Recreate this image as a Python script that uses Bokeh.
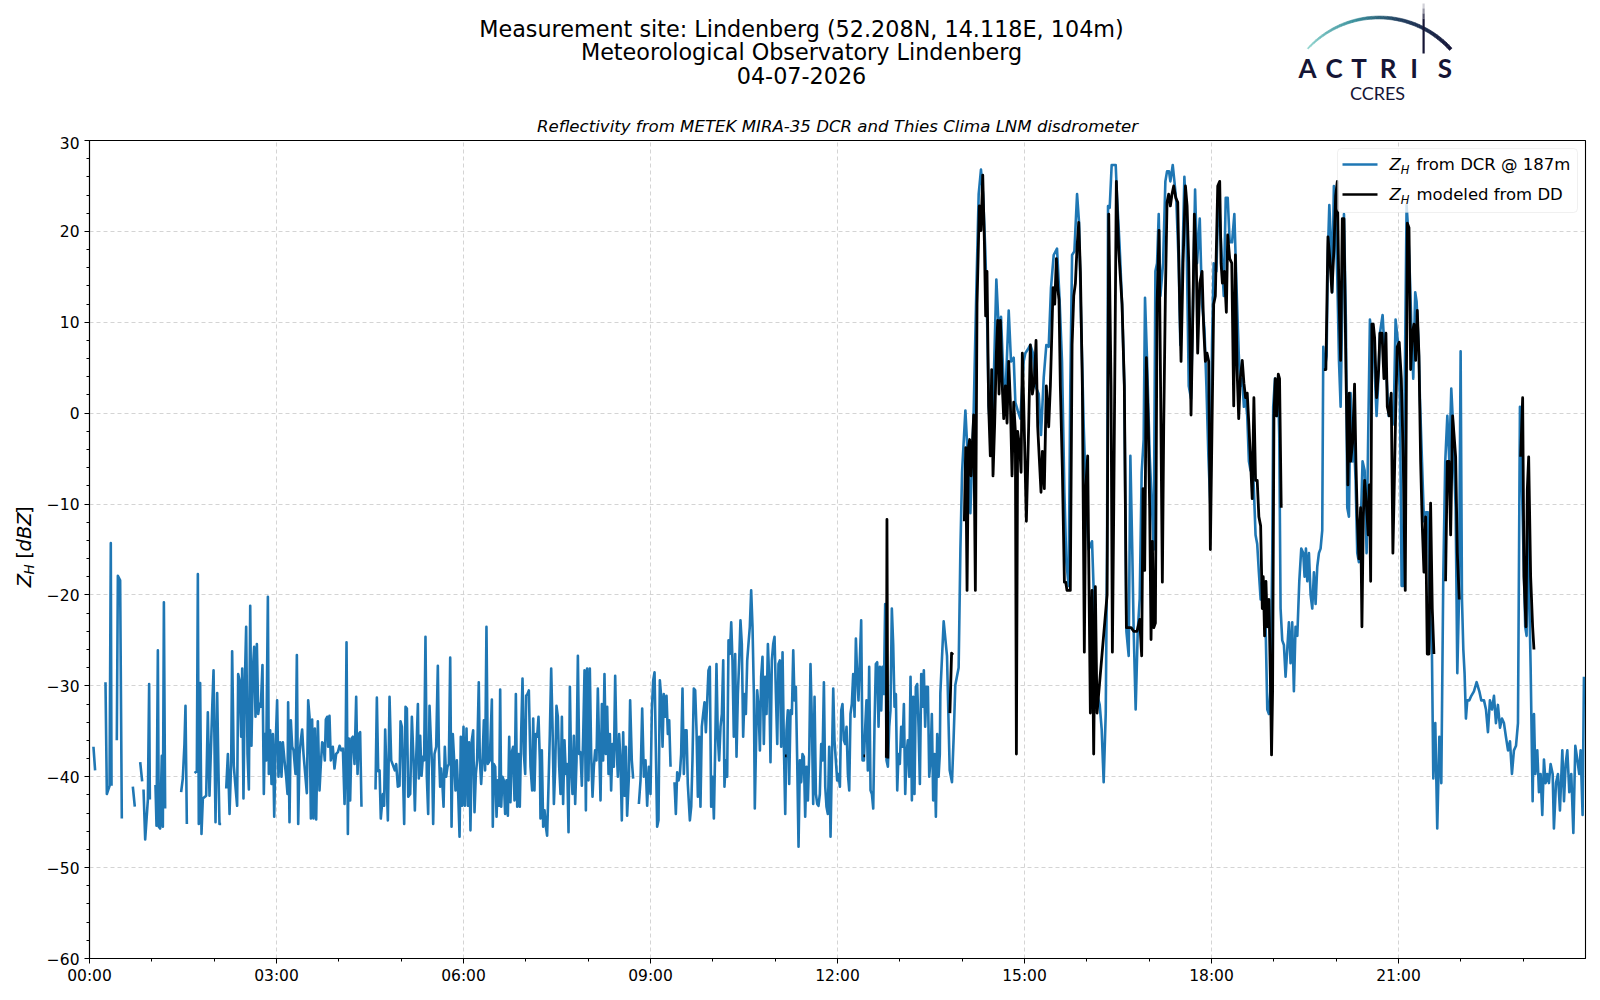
import numpy as np
from bokeh.plotting import figure
from bokeh.layouts import column, row
from bokeh.models import Range1d, FixedTicker, Label, BoxAnnotation, PolyAnnotation
from bokeh.embed import file_html
from bokeh.resources import INLINE

# ---------------- texts ----------------
TITLE_LINES = ["Measurement site: Lindenberg (52.208N, 14.118E, 104m)",
               "Meteorological Observatory Lindenberg",
               "04-07-2026"]
SUBTITLE = "Reflectivity from METEK MIRA-35 DCR and Thies Clima LNM disdrometer"
LEGEND_TEXTS = ["from DCR @ 187m", "modeled from DD"]
X_TICKS_H = [0, 3, 6, 9, 12, 15, 18, 21]
X_TICK_LABELS = ["00:00", "03:00", "06:00", "09:00", "12:00", "15:00", "18:00", "21:00"]
Y_TICKS = [-60, -50, -40, -30, -20, -10, 0, 10, 20, 30]
Y_TICK_LABELS = ["\u221260", "\u221250", "\u221240", "\u221230", "\u221220", "\u221210", "0", "10", "20", "30"]

# ---------------- data: (minutes after 00:00, dBZ); None = no data ----------------
DCR_00_02 = [(3.8,-36.7),(5.4,-39.3),(10,None),
 (15.4,-29.6),(16.7,-41.9),(19.3,-41.0),(20.5,-14.3),(21.2,-41.0),(24,None),
 (26.3,-36.0),(27.3,-17.9),(29.5,-18.4),(31.1,-44.6),(36,None),
 (41.7,-41.1),(43.6,-43.3),(46,None),
 (48.8,-38.4),(50.7,-40.5),(51.4,None),
 (52.0,-41.4),(53.6,-46.9),(56.2,-42.5),(57.4,-29.8),(58.1,-42.5),(60,None),
 (63.5,-40.9),(64.5,-45.4),(65.8,-26.1),(66.7,-45.5),(68.0,-45.7),(69.6,-37.7),(70.6,-45.5),(71.6,-20.8),(72.8,-43.5),(80,None),
 (88.2,-41.7),(89.8,-40.2),(91.4,-36.4),(92.4,-32.2),(93.7,-45.2),(97,None),
 (101.1,-39.6),(103.3,-39.4),(104.3,-17.7),(105.2,-45.2),(106.5,-29.7),(107.8,-46.3),(109.1,-42.4),(112.3,-42.1),
 (113.9,-32.9),(115.5,-42.1),(118.1,-32.5),(119.4,-28.3),(121.3,-45.0),(122.9,-30.8),(124.2,-39.7),(125.1,-45.2),(126.7,-45.2),(129,None)]

DCR_02_06 = [(131.6,-41.3),(133.2,-37.5),(134.8,-44.1),(136.4,-38.2),(137.3,-26.2),(138.9,-38.8),(140.5,-41.1),(142.1,-43.2),
 (143.1,-28.7),(144.4,-29.4),(146.0,-35.6),(147.0,-28.1),(148.2,-42.4),(149.5,-29.8),(150.8,-23.5),(152.1,-37.5),(153.4,-41.4),
 (154.7,-21.2),(155.9,-36.6),(157.2,-28.3),(158.5,-25.7),(159.8,-33.4),(161.1,-25.4),(162.4,-33.1),(163.6,-32.0),(164.9,-32.3),
 (166.5,-27.7),(167.8,-41.9),(168.8,-35.3),(170.1,-38.2),(171.7,-20.2),(172.6,-39.7),(173.9,-34.9),(175.2,-40.8),(176.5,-35.3),
 (177.8,-44.4),(179.1,-36.7),(180.6,-31.6),(181.9,-40.0),(183.5,-36.2),(184.8,-40.0),(186.1,-36.2),(187.7,-38.2),(189.3,-40.0),
 (190.6,-41.9),(191.2,-31.8),(192.5,-45.0),(193.8,-33.8),(195.1,-36.7),(196.4,-37.1),(198.3,-39.7),(199.6,-26.6),(200.9,-45.2),
 (202.2,-37.5),(203.4,-36.0),(204.7,-34.8),(206.0,-37.5),(209.2,-41.8),(210.5,-31.6),(211.8,-33.4),(213.1,-44.6),(214.3,-33.7),
 (215.6,-44.6),(216.9,-34.7),(218.2,-44.7),(219.8,-33.9),(221.4,-41.5),(222.7,-38.6),(224.0,-36.2),(225.2,-36.4),(226.5,-38.2),
 (227.5,-33.7),(228.8,-33.4),(229.7,-36.7),(231.0,-33.3),(232.3,-38.2),(234.2,-36.7),(235.8,-39.1),(237.4,-37.5),(239.1,-37.3),
 (240.7,-36.6),(242.3,-37.1),(243.9,-36.9),(245.5,-43.0),(246.4,-38.9),(247.4,-25.2),(248.7,-46.3),(249.6,-35.8),(250.9,-42.6),
 (252.2,-35.8),(253.5,-35.6),(255.1,-38.6),(256.7,-31.2),(258.0,-39.7),(259.3,-35.3),(260.5,-35.1),(261.8,-43.3),(268,None),
 (275.3,-41.4),(276.6,-31.3),(277.9,-39.4),(279.2,-39.3),(280.4,-44.6),(282.4,-41.9),(283.6,-43.2),(284.6,-34.8),(285.9,-39.7),
 (287.2,-44.8),(288.8,-31.2),(290.4,-38.2),(293.9,-39.3),(295.2,-38.6),(296.8,-41.1),(298.4,-41.0),(299.4,-33.9),(300.7,-34.5),
 (301.6,-38.9),(302.9,-45.2),(304.2,-32.3),(305.5,-32.5),(306.8,-42.2),(308.7,-41.9),(310.3,-33.4),(311.9,-38.2),(313.2,-43.7),
 (314.4,-38.2),(316.1,-32.0),(317.0,-40.2),(318.3,-35.5),(319.6,-39.9),(320.9,-37.8),(322.1,-38.2),(323.4,-24.6),(324.7,-40.0),
 (326.0,-44.1),(327.3,-32.2),(328.6,-36.0),(329.9,-39.1),(330.8,-45.2),(332.1,-37.5),(333.7,-36.7),(335.3,-27.8),(336.3,-37.0),
 (337.5,-41.1),(338.5,-39.1),(339.5,-40.4),(340.8,-43.3),(342.0,-36.7),(343.3,-40.0),(344.6,-38.9),(345.9,-38.6),(347.2,-26.9),
 (348.5,-45.5),(349.7,-35.3),(351.0,-38.2),(352.3,-41.5),(353.6,-38.2),(354.9,-41.9),(356.2,-46.6),(357.4,-35.6),(358.7,-43.2),
 (360.0,-34.5),(361.3,-43.2)]

DCR_06_10 = [(362.9,-34.7),(364.2,-43.2),(365.4,-36.2),(366.7,-45.9),(368.0,-36.0),(369.3,-34.9),(370.6,-43.9),(371.9,-39.7),
 (373.1,-38.2),(374.7,-29.6),(375.7,-38.0),(377.0,-40.8),(378.3,-38.2),(379.6,-33.8),(380.8,-39.3),(382.1,-23.5),(383.4,-38.6),
 (385.3,-38.2),(387.3,-31.5),(388.2,-45.5),(389.2,-38.6),(390.5,-38.9),(391.8,-44.4),(393.0,-40.4),(394.3,-43.2),(395.3,-30.4),
 (396.3,-43.3),(397.5,-40.0),(398.8,-40.4),(400.1,-44.1),(401.4,-40.4),(402.7,-44.3),(404.0,-35.6),(405.2,-42.8),(406.5,-37.3),
 (407.8,-36.7),(409.1,-42.6),(410.4,-30.9),(411.7,-43.3),(412.9,-37.5),(414.2,-43.3),(415.5,-35.3),(416.8,-29.2),(418.1,-37.5),
 (419.4,-39.7),(420.3,-31.1),(421.6,-30.9),(422.9,-30.5),(424.5,-38.9),(426.1,-41.5),(427.1,-33.6),(428.3,-41.5),(429.6,-35.3),
 (430.9,-35.6),(432.2,-33.4),(433.5,-38.2),(434.1,-44.6),(435.4,-37.1),(436.7,-45.5),(438.0,-43.7),(439.3,-45.5),(440.5,-46.5),
 (441.8,-41.1),(443.1,-35.3),(444.4,-28.1),(445.7,-34.5),(447.0,-43.0),(448.2,-39.3),(449.5,-32.2),(450.8,-33.4),(452.1,-38.9),
 (453.4,-41.9),(454.7,-33.4),(455.9,-43.0),(457.2,-36.0),(458.5,-39.7),(459.8,-38.6),(461.1,-46.1),(462.4,-30.1),(463.6,-38.9),
 (464.9,-41.9),(466.2,-35.5),(467.5,-43.0),(468.8,-38.2),(470.1,-26.7),(471.3,-37.5),(472.6,-37.3),(473.9,-41.0),(475.2,-35.6),
 (476.5,-28.3),(477.8,-43.7),(479.0,-28.1),(480.3,-40.4),(481.6,-28.1),(482.9,-37.5),(484.2,-42.2),(485.5,-38.9),(486.7,-37.1),
 (488.0,-38.2),(489.3,-30.3),(490.6,-36.7),(491.9,-42.6),(493.2,-32.0),(494.4,-38.2),(495.7,-28.7),(497.0,-37.5),(498.3,-32.3),
 (499.6,-39.7),(500.9,-35.3),(502.1,-41.5),(503.4,-36.4),(504.7,-38.9),(506.0,-28.9),(507.3,-36.7),(508.6,-40.0),(509.8,-35.3),
 (511.1,-38.2),(512.4,-44.8),(513.7,-35.1),(515.0,-42.1),(516.3,-36.7),(517.5,-44.3),(519.2,-40.0),(520.4,-31.6),(522.0,-38.2),
 (523.3,-40.2),(526,None),
 (528.8,-43.0),(530.4,-40.4),(532.0,-32.5),(533.6,-40.0),(535.2,-38.2),(536.8,-43.2),(538.4,-38.9),(540.0,-41.9),(541.3,-32.7),
 (542.6,-29.4),(543.9,-28.5),(545.1,-36.7),(546.4,-45.5),(547.7,-44.8),(549.0,-29.4),(550.3,-31.2),(551.6,-36.7),(552.8,-30.9),
 (554.1,-33.4),(555.4,-31.1),(556.7,-35.3),(558.0,-33.8),(559.3,-38.9),(561,None),
 (563.1,-40.6),(564.4,-44.1),(565.7,-39.5),(567.0,-40.4),(568.3,-39.7),(569.5,-37.5),(570.8,-30.3),(572.1,-39.7),(573.4,-34.9),
 (574.7,-34.9),(575.9,-40.8),(577.9,-44.8),(579.2,-43.3),(580.4,-38.2),(581.7,-30.3),(583.0,-30.5),(584.3,-34.9),(585.6,-42.2),
 (586.9,-35.6),(588.1,-43.3),(589.4,-34.5),(590.7,-33.1),(592.0,-31.8),(593.3,-35.1),(594.6,-31.6),(595.8,-28.3),(597.1,-27.9),
 (598.4,-43.3),(599.7,-40.0)]

DCR_10_1340 = [(601.0,-44.6),(602.3,-36.7),(603.5,-27.6),(604.8,-35.6),(606.1,-38.2),(607.4,-34.5),(608.7,-33.1),(610.0,-27.2),
 (611.2,-41.1),(612.5,-38.2),(613.8,-40.0),(615.1,-25.0),(616.4,-26.5),(617.7,-23.0),(618.9,-27.2),(620.2,-35.6),(621.5,-26.5),
 (622.8,-37.8),(624.1,-30.9),(625.4,-27.2),(626.6,-22.8),(627.9,-25.4),(629.2,-35.6),(630.5,-30.9),(631.8,-33.1),(633.1,-27.2),
 (634.3,-25.4),(635.6,-23.5),(636.9,-19.5),(638.2,-23.5),(639.5,-30.9),(640.4,-43.5),(641.4,-37.5),(642.7,-30.5),(644.0,-32.3),
 (645.3,-37.1),(646.5,-29.0),(647.8,-26.8),(649.1,-36.4),(650.4,-29.0),(651.7,-33.1),(653.0,-25.4),(654.2,-29.0),(655.5,-38.4),
 (656.8,-27.2),(658.1,-25.4),(659.4,-24.6),(660.7,-30.9),(662.0,-36.4),(663.2,-27.6),(664.5,-27.2),(665.8,-36.7),(667.1,-26.3),
 (668.4,-36.7),(669.7,-44.1),(670.9,-34.9),(672.2,-32.7),(673.5,-40.8),(674.8,-32.7),(676.1,-33.1),(677.4,-26.1),(678.6,-31.6),
 (679.9,-30.1),(681.2,-38.2),(682.5,-47.7),(683.8,-38.2),(685.1,-40.6),(686.3,-37.5),(687.6,-37.8),(688.9,-44.4),(690.2,-38.9),
 (691.5,-42.6),(692.8,-37.5),(694.0,-27.6),(695.3,-33.8),(696.6,-43.0),(697.9,-31.2),(699.2,-41.9),(700.5,-43.0),(701.7,-43.2),
 (703.0,-41.9),(704.3,-36.4),(705.6,-38.2),(706.9,-29.6),(708.2,-41.1),(709.4,-43.3),(710.7,-44.1),(712.0,-36.7),(713.3,-46.6),
 (714.6,-38.2),(715.9,-30.3),(717.1,-36.0),(718.4,-38.2),(719.7,-40.4),(721.0,-39.7),(722.3,-41.1),(723.6,-32.7),(724.8,-32.0),
 (726.1,-36.0),(727.4,-36.4),(728.7,-34.5),(730.0,-39.7),(731.3,-41.5),(732.5,-33.1),(733.8,-32.0),(735.1,-28.7),(736.4,-33.4),
 (737.7,-24.8),(739.0,-29.0),(740.2,-31.6),(741.5,-27.2),(742.8,-22.8),(744.1,-38.2),(745.4,-38.2),(746.7,-34.5),(747.9,-31.6),
 (749.2,-39.3),(750.5,-27.9),(751.8,-41.5),(753.1,-41.9),(754.4,-43.5),(755.6,-34.5),(756.9,-27.6),(758.2,-27.4),(759.5,-34.5),
 (760.8,-27.9),(762.1,-32.7),(763.3,-27.9),(764.6,-30.9),(765.9,-21.0),(767.2,-38.2),(768.5,-38.9),(769.8,-34.5),(771.0,-32.7),
 (772.3,-21.5),(773.6,-25.4),(774.9,-32.3),(776.2,-30.9),(777.5,-41.5),(778.7,-37.5),(780.0,-38.6),(781.3,-34.5),(782.6,-36.7),
 (783.9,-32.0),(785.2,-41.9),(786.4,-37.5),(787.7,-36.0),(789.0,-40.0),(790.3,-29.0),(791.6,-42.6),(792.9,-31.2),(794.1,-41.9),
 (795.4,-30.1),(796.7,-29.8),(798.0,-34.5),(799.3,-40.8),(800.6,-28.7),(801.8,-32.3),(803.1,-28.3),(804.4,-34.5),(805.7,-30.1),
 (807.0,-30.1),(808.3,-40.0),(809.5,-38.2),(810.8,-33.1),(812.1,-42.6),(813.4,-37.5),(814.7,-44.4),(816.0,-35.3),(817.3,-40.0),
 (818.5,-37.5)]

DCR_1340_1830 = [(819.0,-30.8),(822.2,-22.9),(825.4,-26.7),(828.0,-39.3),(830.2,-40.6),(831.8,-35.7),(833.4,-29.9),(836.6,-28.0),
 (838.3,-15.0),(839.9,-6.5),(843.1,0.3),(844.7,-3.3),(847.9,-11.0),(851.1,0.3),(853.7,13.8),(855.9,24.1),(858.1,26.8),(860.1,24.1),
 (862.3,17.8),(863.9,11.1),(865.5,0.75),(867.8,-3.3),(870.3,3.0),(872.9,14.7),(875.2,9.3),(877.4,10.6),(880.0,3.0),(881.6,1.6),
 (884.8,11.3),(887.0,5.7),(889.6,6.1),(891.2,1.2),(893.4,0.3),(896.0,-0.6),(899.2,5.7),(900.8,6.6),(903.1,7.0),(905.6,7.5),
 (908.2,6.6),(910.5,3.0),(913.7,2.1),(915.9,-2.4),(918.5,3.9),(921.0,7.5),(923.3,7.3),(925.5,13.8),(928.1,17.4),(931.3,18.1),
 (933.6,12.9),(936.1,5.7),(938.4,-8.7),(940.3,-16.4),(942.5,-19.0),(944.1,3.0),(945.8,17.4),(948.0,17.8),(950.6,24.1),(952.5,21.0),
 (954.4,10.6),(957.0,-1.5),(959.6,-10.5),(961.8,-15.0),(965.0,-14.1),(966.6,-19.5),(968.5,-31.2),(970.5,-31.2),(972.4,-32.1),
 (974.3,-34.8),(976.2,-40.6),(978.2,-33.0),(979.5,-15.0),(980.4,22.8),(982.0,22.6),(983.9,27.3),(985.9,27.3),(987.8,27.3),
 (989.1,23.7),(991.6,18.3),(993.9,12.0),(996.1,3.0),(998.1,-24.0),(1000.3,-26.7),(1001.9,-4.7),(1003.8,-15.5),(1005.1,-24.0),
 (1007.0,-32.6),(1009.0,-24.0),(1010.9,-20.4),(1012.8,-6.5),(1014.7,-2.9),(1016.0,12.7),(1018.0,5.7),(1020.5,-4.7),(1022.8,-10.5),
 (1024.4,-15.0),(1026.0,15.6),(1027.6,16.5),(1029.2,21.9),(1030.8,12.9),(1033.4,16.5),(1035.6,25.5),(1037.2,26.6),(1039.1,26.6),
 (1040.4,25.5),(1042.7,27.3),(1044.3,25.5),(1046.2,23.2),(1048.4,16.5),(1050.0,7.5),(1052.0,16.5),(1053.9,26.0),(1055.8,21.0),
 (1058.1,3.0),(1060.3,1.6),(1062.2,12.0),(1064.2,24.6),(1066.1,16.5),(1068.7,21.4),(1070.9,12.0),(1073.2,9.3),(1075.1,3.0),
 (1077.0,-4.7),(1079.0,-10.5),(1080.5,7.5),(1082.1,16.5),(1084.7,15.6),(1086.9,24.6),(1088.6,20.1),(1090.2,16.5),(1091.8,12.9),
 (1093.7,23.7),(1095.6,23.7),(1097.5,18.8),(1099.8,18.8),(1102.0,21.9),(1104.0,14.2),(1106.2,6.6),(1107.8,3.0)]

DCR_1830_24 = [(1109.6,3.8),(1111.2,0.7),(1112.8,1.7),(1114.4,-0.3),(1116.0,-5.3),(1117.6,-6.3),(1119.2,-4.3),(1120.8,-8.4),
 (1122.4,-13.4),(1124.0,-14.4),(1125.6,-17.5),(1127.3,-20.5),(1128.9,-18.5),(1130.5,-20.5),(1132.1,-23.5),(1133.7,-32.6),
 (1135.3,-33.1),(1136.9,-30.1),(1138.5,-15.4),(1139.4,0.7),(1141.1,3.8),(1142.7,-0.3),(1143.9,3.8),(1145.2,-2.3),(1146.5,-21.5),
 (1148.1,-25.0),(1149.7,-25.5),(1151.3,-29.0),(1152.9,-26.0),(1154.5,-23.0),(1156.1,-27.5),(1157.7,-23.0),(1159.3,-30.6),
 (1160.9,-23.5),(1162.6,-24.5),(1164.5,-18.5),(1166.4,-14.9),(1168.3,-15.4),(1169.6,-18.0),(1170.9,-14.9),(1172.2,-18.5),
 (1173.8,-15.4),(1175.4,-20.0),(1177.0,-21.5),(1178.6,-17.5),(1180.2,-21.0),(1181.8,-16.9),(1183.4,-15.4),(1185.0,-14.9),
 (1186.6,-12.9),(1187.6,7.3),(1188.9,4.8),(1190.8,6.3),(1192.1,17.9),(1193.4,22.9),(1194.6,19.9),(1196.2,13.3),(1197.8,25.0),
 (1199.5,20.9),(1201.1,14.9),(1202.7,5.8),(1204.3,0.7),(1205.6,9.8),(1207.5,21.9),(1209.4,9.8),(1210.7,-10.4),(1212.3,-11.4),
 (1213.9,2.2),(1215.8,-5.3),(1217.1,-2.8),(1218.7,-7.4),(1220.3,-15.4),(1221.9,-16.4),(1223.5,-12.9),(1225.4,-5.3),(1227.4,-6.3),
 (1229.3,-15.4),(1230.6,-4.3),(1232.5,10.3),(1233.8,8.8),(1235.7,8.8),(1237.0,4.8),(1238.9,-0.3),(1240.2,2.7),(1242.1,8.8),
 (1244.7,10.8),(1246.6,6.8),(1248.6,3.8),(1250.5,-0.3),(1252.4,1.7),(1254.3,-1.3),(1255.6,0.7),(1257.2,10.3),(1259.5,7.8),
 (1261.4,1.7),(1263.0,-19.0),(1264.6,-19.0),(1265.9,1.7),(1267.8,22.9),(1269.4,19.9),(1271.0,14.9),(1272.3,9.8),(1274.2,3.8),
 (1276.1,13.3),(1277.4,12.3),(1279.4,7.3),(1280.6,1.7),(1282.6,-5.3),(1284.5,-11.9),(1286.4,-10.9),(1288.3,-10.9),(1290.3,-21.5),
 (1292.2,-26.5),(1293.5,-40.2),(1295.4,-34.1),(1297.3,-45.7),(1299.3,-35.6),(1301.2,-40.7),(1303.1,-18.0),(1305.0,-5.3),
 (1307.0,-0.3),(1308.9,-5.3),(1310.8,2.7),(1312.1,-0.3),(1313.4,-5.3),(1315.0,-10.4),(1316.6,-28.6),(1318.2,-20.5),(1319.8,6.8),
 (1321.1,-20.5),(1322.4,-26.0),(1323.6,-28.6),(1324.9,-33.6),(1326.2,-31.6),(1328.1,-31.6),(1330.1,-31.1),(1332.6,-30.6),
 (1335.2,-29.6),(1337.8,-30.6),(1339.7,-31.6),(1342.3,-31.6),(1344.2,-32.6),(1346.1,-35.1),(1348.0,-31.6),(1350.0,-32.6),
 (1351.9,-31.1),(1353.8,-34.1),(1355.7,-32.1),(1357.7,-34.6),(1359.6,-33.6),(1361.5,-34.1),(1363.4,-35.6),(1365.4,-37.1),
 (1367.3,-36.1),(1369.2,-39.7),(1371.1,-37.1),(1373.1,-36.6),(1375.0,-34.1),(1376.9,0.7),(1378.2,-5.3),(1379.5,-11.4),
 (1380.8,-18.0),(1382.0,-23.5),(1383.3,-24.5),(1384.6,-10.4),(1385.9,-20.5),(1387.2,-28.0),(1389.1,-42.7),(1390.4,-33.1),
 (1391.7,-39.7),(1393.6,-37.1),(1395.2,-41.7),(1396.8,-39.7),(1398.4,-44.2),(1400.0,-38.1),(1401.6,-40.7),(1403.2,-39.7),
 (1404.8,-40.7),(1406.4,-38.6),(1408.4,-39.7),(1409.6,-45.7),(1411.6,-40.7),(1413.5,-39.7),(1415.4,-43.7),(1417.7,-37.1),
 (1419.3,-42.7),(1420.9,-38.6),(1422.5,-37.1),(1424.4,-41.7),(1426.3,-39.7),(1428.3,-46.2),(1430.2,-36.6),(1432.1,-38.1),
 (1434.0,-39.7),(1435.3,-37.1),(1437.2,-44.2),(1438.5,-29.0)]

DD_BEFORE_14 = [(669.5,-37.7),(671.0,-37.7),(672,None),(745.0,-37.7),(746.5,-37.7),(747,None),
 (767.0,-37.9),(767.6,-11.7),(768.4,-38.0),(770,None),(828.2,-33.0),(829.8,-26.4),(831.2,-26.6),(835,None)]

DD_14_19 = [(842.1,-11.9),(843.4,-3.8),(844.7,-19.5),(846.0,-3.8),(847.2,-2.9),(848.5,-6.9),(851.1,-0.2),(852.7,-19.5),
 (854.3,12.0),(856.5,22.8),(858.1,20.1),(859.8,26.2),(861.4,18.8),(862.6,10.7),(863.9,15.6),(865.5,0.8),(867.1,-4.7),(868.4,4.8),
 (869.7,-6.9),(871.3,-1.1),(872.9,6.6),(874.2,10.2),(875.5,2.1),(876.8,10.2),(878.4,3.5),(880.0,-0.6),(881.6,3.0),(883.2,-1.1),
 (884.8,5.7),(886.4,1.2),(888.0,-6.9),(889.6,1.2),(891.2,-2.0),(892.2,-37.5),(893.4,-2.0),(895.4,-3.8),(896.7,-6.5),(897.9,6.6),
 (899.2,1.2),(901.8,-11.9),(904.0,-1.5),(905.6,7.5),(907.6,2.1),(909.5,3.5),(911.1,8.0),(912.7,-1.5),(914.3,-5.1),(915.9,-8.7),
 (917.2,-4.2),(919.1,-8.3),(921.0,3.0),(923.3,-1.5),(924.9,3.0),(927.5,13.8),(929.1,12.0),(930.7,17.0),(932.0,13.8),(933.2,12.5),
 (934.5,3.0),(936.4,-6.0),(938.4,-18.6),(939.7,-18.6),(940.9,-19.5),(942.5,-19.5),(944.1,-19.5),(945.8,7.5),(947.4,12.9),
 (949.0,14.3),(950.6,18.3),(952.2,21.0),(953.8,15.6),(955.7,3.0),(957.6,-26.3),(958.9,-8.3),(960.8,-4.7),(961.8,-15.9),
 (963.4,-33.0),(965.0,-19.5),(966.6,-37.5),(968.2,-19.1),(969.8,-33.0),(979.5,-20.0),(981.1,21.9),(983.3,3.0),(984.6,-26.3),
 (985.9,-10.5),(988.4,25.5),(990.7,17.9),(993.9,12.0),(996.1,3.0),(998.1,-23.6),(1000.3,-23.6),(1002.6,-23.6),(1005.1,-24.0),
 (1008.3,-24.0),(1010.9,-22.7),(1012.8,-26.7),(1014.1,-8.3),(1015.7,-17.3),(1017.3,6.1),(1019.2,-1.5),(1020.5,-10.5),
 (1021.8,-24.9),(1023.1,-14.1),(1024.4,-23.6),(1026.0,-23.1),(1027.6,12.0),(1029.5,20.1),(1030.8,5.2),(1032.7,-18.6),
 (1034.0,-1.5),(1035.6,12.9),(1037.2,23.2),(1038.8,24.1),(1040.4,22.8),(1042.0,24.1),(1043.6,25.0),(1045.6,23.7),(1047.5,23.2),
 (1049.4,12.0),(1050.7,5.7),(1052.6,16.5),(1054.9,25.0),(1056.5,22.8),(1058.1,16.5),(1060.3,-0.2),(1062.2,12.0),(1063.5,21.9),
 (1065.4,16.5),(1066.7,6.6),(1068.7,14.3),(1070.9,15.6),(1072.5,9.3),(1074.1,5.7),(1075.7,6.6),(1077.3,5.7),(1078.9,-15.0),
 (1080.5,-1.5),(1082.1,12.0),(1083.7,12.9),(1086.0,25.0),(1087.9,25.5),(1089.2,16.5),(1090.5,14.3),(1092.4,15.6),(1094.3,11.1),
 (1095.6,19.6),(1097.5,17.0),(1099.5,16.5),(1101.4,0.8),(1103.0,17.4),(1104.6,4.8),(1106.2,-0.6),(1107.8,3.9),
 (1109.6,5.8),(1111.2,3.3),(1112.8,1.7),(1114.4,2.2),(1116.0,-1.3),(1117.6,-5.3),(1119.2,-9.4),(1120.8,1.7),(1122.4,-7.4),
 (1124.0,-7.4),(1125.6,-11.4),(1127.3,-12.4),(1128.9,-21.5),(1129.8,-18.0),(1131.1,-24.5),(1132.4,-18.5),(1133.7,-23.5),
 (1135.3,-20.5),(1136.9,-30.6),(1137.8,-37.6),(1138.8,-30.6),(1140.1,-0.3),(1141.4,3.8),(1142.7,-0.3),(1144.3,4.3),
 (1145.5,3.8),(1147.1,-10.4),(1160,None)]

DD_19_24 = [(1188.2,4.8),(1190.1,4.8),(1192.1,19.4),(1194.0,16.9),(1195.9,13.3),(1197.8,17.9),(1199.5,23.9),(1201.1,25.5),
 (1202.7,12.8),(1204.3,5.8),(1205.9,21.4),(1207.5,21.4),(1209.4,4.8),(1211.3,-7.9),(1212.6,2.2),(1213.9,-5.3),(1215.8,-3.3),
 (1217.7,3.2),(1219.0,-5.3),(1220.3,-11.4),(1221.9,-16.0),(1223.5,-10.4),(1224.8,-23.5),(1226.1,-11.4),(1227.4,-7.4),
 (1229.3,-10.4),(1230.9,-13.4),(1231.9,-7.9),(1233.2,-18.5),(1234.4,9.8),(1235.7,9.8),(1237.0,8.3),(1238.9,1.7),(1240.9,4.8),
 (1242.1,8.8),(1244.1,8.8),(1246.0,3.8),(1247.9,8.8),(1249.2,0.7),(1251.1,-0.3),(1253.0,2.2),(1254.6,-15.4),(1255.6,-9.9),
 (1257.2,-0.3),(1258.8,7.3),(1260.7,7.8),(1262.7,3.8),(1264.6,-5.3),(1266.5,-19.5),(1268.5,20.9),(1270.1,20.4),(1271.7,4.8),
 (1273.3,8.8),(1274.9,9.8),(1276.5,5.8),(1278.1,11.3),(1279.7,6.3),(1281.3,-5.3),(1282.9,-12.4),(1284.5,-17.5),(1286.1,-11.4),
 (1287.7,-26.5),(1289.3,-26.5),(1290.9,-9.9),(1292.5,-21.5),(1294.1,-26.5),(1300,None),
 (1305.3,-18.5),(1307.0,-5.3),(1308.6,-5.3),(1310.2,-13.4),(1312.1,-0.3),(1313.4,-2.3),(1315.0,-4.8),(1316.6,-15.4),
 (1318.5,-20.5),(1340,None),
 (1377.6,-4.8),(1379.5,1.7),(1380.8,-18.0),(1382.7,-23.5),(1384.0,-8.4),(1385.3,-4.8),(1387.2,-18.0),(1389.1,-23.5),(1390.4,-26.0)]

BLUE = "#1f77b4"
NAVY = "#151535"


def series(*segments):
    t, z = [], []
    for seg in segments:
        for m, v in seg:
            t.append(m / 60.0)
            z.append(np.nan if v is None else v)
    return np.array(t), np.array(z)


# ---------------- layout in page pixels ----------------
FX0, FX1, FY0, FY1 = 89, 1585, 140, 958      # plot frame on the page
W_TOTAL = 1592
HEAD_H = 136
STRIP_W = 40
MAIN_TOP = FY0 - HEAD_H
MAIN_BOTTOM = 34
MAIN_H = MAIN_TOP + (FY1 - FY0) + MAIN_BOTTOM
MAIN_LEFT = FX0 - STRIP_W
MAIN_RIGHT = W_TOTAL - FX1
MAIN_W = W_TOTAL - STRIP_W


def blank(width, height, x0, x1, y0, y1):
    f = figure(width=width, height=height, x_range=Range1d(x0, x1), y_range=Range1d(y0, y1),
               output_backend="svg", toolbar_location=None, x_axis_location=None, y_axis_location=None,
               min_border=0, min_border_left=0, min_border_right=0, min_border_top=0, min_border_bottom=0)
    f.outline_line_color = None
    f.xgrid.visible = False
    f.ygrid.visible = False
    f.background_fill_color = "white"
    f.border_fill_color = "white"
    return f


def dlabel(fig, text, x, y, size, align="left", style="normal", font="DejaVu Sans", angle=0.0, color="black"):
    fig.add_layout(Label(x=x, y=y, text=text, text_font=font, text_font_size=f"{size}px",
                         text_font_style=style, text_align=align, text_baseline="middle",
                         angle=angle, text_color=color))


# ---------- header: titles + logo (x = page px, y = HEAD_H - page px) ----------
head = blank(W_TOTAL, HEAD_H, 0, W_TOTAL, 0, HEAD_H)


def hy(y):
    return HEAD_H - y


for txt, yc in zip(TITLE_LINES, (28.6, 51.0, 74.6)):
    dlabel(head, txt, 801, hy(yc), 22.3, align="center")
dlabel(head, SUBTITLE, 837, hy(125.7), 16.6, align="center", style="italic")

for ch, xc in zip("ACTRIS", (1307, 1333.5, 1358.5, 1387.5, 1413.5, 1444.5)):
    dlabel(head, ch, xc, hy(67.5), 26, align="center", font="Lato", style="bold", color=NAVY)
dlabel(head, "CCRES", 1377, hy(92), 18, align="center", font="Lato", color=NAVY)

cx, cy, R = 1378.5, 113.9, 96.9
a_left, a_right = np.deg2rad(137.3), np.deg2rad(42.2)
stops = [(0.0, (0x8d, 0xd3, 0xcd)), (0.35, (0x3a, 0x90, 0x9c)), (0.62, (0x22, 0x40, 0x60)), (1.0, (0x15, 0x15, 0x38))]


def grad(s):
    for (s0, c0), (s1, c1) in zip(stops[:-1], stops[1:]):
        if s <= s1:
            f = (s - s0) / (s1 - s0)
            return "#%02x%02x%02x" % tuple(int(round(a + (b - a) * f)) for a, b in zip(c0, c1))
    return "#151538"


NSEG = 40
for i in range(NSEG):
    s0, s1 = i / NSEG, (i + 1) / NSEG
    th0 = a_left + (a_right - a_left) * s0
    th1 = a_left + (a_right - a_left) * s1
    w0 = 0.5 + 1.6 * s0 ** 0.6 * (1 - 0.25 * s0)
    w1 = 0.5 + 1.6 * s1 ** 0.6 * (1 - 0.25 * s1)
    xs = [cx + (R + w0) * np.cos(th0), cx + (R + w1) * np.cos(th1), cx + (R - w1) * np.cos(th1), cx + (R - w0) * np.cos(th0)]
    ys = [cy - (R + w0) * np.sin(th0), cy - (R + w1) * np.sin(th1), cy - (R - w1) * np.sin(th1), cy - (R - w0) * np.sin(th0)]
    c = grad((s0 + s1) / 2)
    head.add_layout(PolyAnnotation(xs=list(xs), ys=[hy(v) for v in ys], fill_color=c, fill_alpha=1,
                                   line_color=c, line_alpha=1, line_width=0.6))
for y0, y1, al in ((3, 8, 0.2), (8, 13, 0.45), (13, 18, 0.75), (18, 53, 1.0)):
    head.add_layout(BoxAnnotation(left=1422, right=1424.2, top=hy(y0), bottom=hy(y1),
                                  fill_color=NAVY, fill_alpha=al, line_alpha=0))

# ---------- left strip: y-axis label (x = page px, y = bottom-up) ----------
strip = blank(STRIP_W, MAIN_H, 0, STRIP_W, 0, MAIN_H)


def syp(y):
    return HEAD_H + MAIN_H - y


ang = np.pi / 2
YL = 12.0   # downward correction of the rotated pieces
dlabel(strip, "Z", 24, syp(591.5 + YL), 19.5, style="italic", angle=ang)
dlabel(strip, "H", 28.5, syp(578.1 + YL), 13.6, style="italic", angle=ang)
dlabel(strip, "[", 24, syp(561.6 + YL), 19.5, angle=ang)
dlabel(strip, "dBZ", 24, syp(554.0 + YL), 19.5, style="italic", angle=ang)
dlabel(strip, "]", 24, syp(514.9 + YL), 19.5, angle=ang)

# ---------- main chart ----------
p = figure(width=MAIN_W, height=MAIN_H, x_range=Range1d(0, 24), y_range=Range1d(-60, 30),
           output_backend="svg", toolbar_location=None,
           min_border_left=MAIN_LEFT, min_border_right=MAIN_RIGHT,
           min_border_top=MAIN_TOP, min_border_bottom=MAIN_BOTTOM)
p.background_fill_color = "white"
p.border_fill_color = "white"
p.outline_line_color = "black"
p.outline_line_width = 1.1

xa = p.xaxis[0]
ya = p.yaxis[0]
xa.ticker = FixedTicker(ticks=X_TICKS_H, minor_ticks=[h for h in range(1, 24) if h % 3])
xa.major_label_overrides = dict(zip(X_TICKS_H, X_TICK_LABELS))
ya.ticker = FixedTicker(ticks=Y_TICKS, minor_ticks=[v for v in range(-58, 30, 2) if v % 10])
ya.major_label_overrides = dict(zip(Y_TICKS, Y_TICK_LABELS))
for ax, standoff in ((xa, 3), (ya, 5)):
    ax.axis_line_color = "black"
    ax.axis_line_width = 1.1
    ax.major_tick_line_color = "black"
    ax.minor_tick_line_color = "black"
    ax.major_tick_out = 5
    ax.major_tick_in = 0
    ax.minor_tick_out = 3
    ax.minor_tick_in = 0
    ax.major_label_text_font = "DejaVu Sans"
    ax.major_label_text_font_size = "15.5px"
    ax.major_label_text_color = "black"
    ax.major_label_standoff = standoff

p.xgrid.ticker = FixedTicker(ticks=X_TICKS_H)
p.ygrid.ticker = FixedTicker(ticks=Y_TICKS)
for g in (p.xgrid, p.ygrid):
    g.grid_line_color = "#cfcfcf"
    g.grid_line_dash = "4 3"
    g.grid_line_width = 0.9

tb, zb = series(DCR_00_02, DCR_02_06, DCR_06_10, DCR_10_1340, DCR_1340_1830, DCR_1830_24)
td, zd = series(DD_BEFORE_14, DD_14_19, DD_19_24)
p.line(tb, zb, line_color=BLUE, line_width=2.6, line_join="round")
p.line(td, zd, line_color="black", line_width=2.8, line_join="round")


# legend (frame-relative screen units, converted from page pixels)
def sx(x):
    return x - FX0


def sy(y):
    return FY1 - y


def slabel(text, x, y, size, style="normal"):
    p.add_layout(Label(x=sx(x), y=sy(y), x_units="screen", y_units="screen", text=text,
                       text_font="DejaVu Sans", text_font_size=f"{size}px", text_font_style=style,
                       text_align="left", text_baseline="middle", text_color="black"))


p.add_layout(BoxAnnotation(left=sx(1337), right=sx(1577), top=sy(148), bottom=sy(212),
                           left_units="screen", right_units="screen", top_units="screen", bottom_units="screen",
                           fill_color="white", fill_alpha=0.8, line_color="#cccccc", line_width=1,
                           border_radius=4, level="annotation"))
for yc, col, txt in ((164.0, BLUE, LEGEND_TEXTS[0]), (194.0, "black", LEGEND_TEXTS[1])):
    p.add_layout(BoxAnnotation(left=sx(1342), right=sx(1377), top=sy(yc - 1.3), bottom=sy(yc + 1.3),
                               left_units="screen", right_units="screen", top_units="screen", bottom_units="screen",
                               fill_color=col, fill_alpha=1, line_alpha=0, level="annotation"))
    slabel("Z", 1389, yc, 16.5, style="italic")
    slabel("H", 1400.3, yc + 5, 11.5, style="italic")
    slabel(txt, 1416, yc, 16.5)

layout = column(head, row(strip, p))
open("out.html", "w").write(file_html(layout, INLINE))
